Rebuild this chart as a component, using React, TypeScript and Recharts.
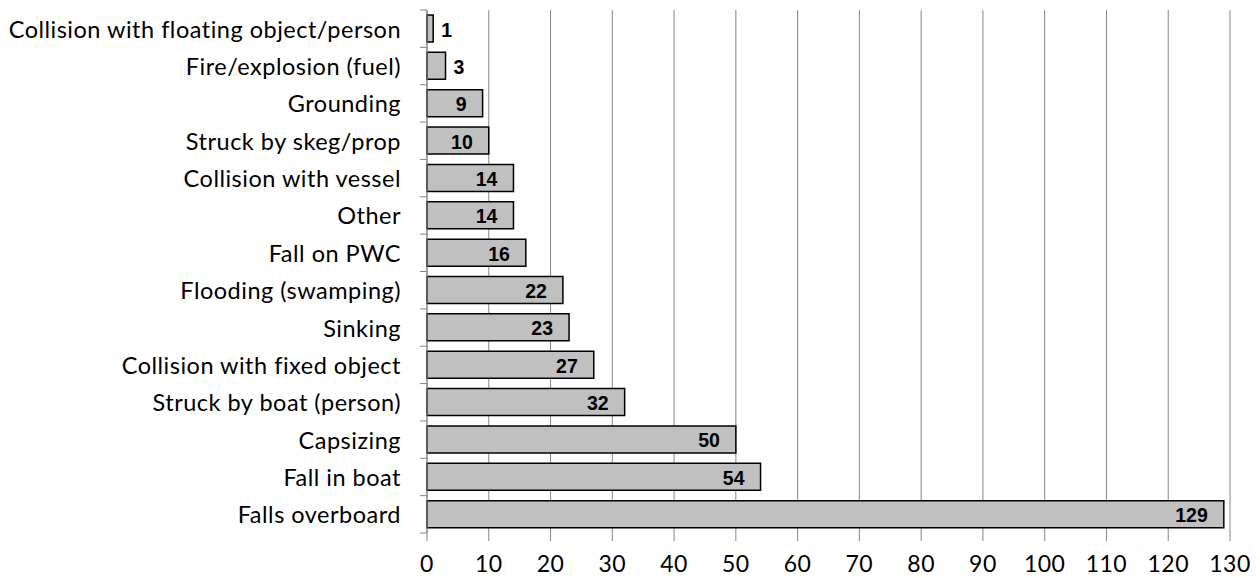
import React from 'react';
import { BarChart, Bar, XAxis, YAxis, CartesianGrid, LabelList } from 'recharts';

const categories = [
  'Collision with floating object/person',
  'Fire/explosion (fuel)',
  'Grounding',
  'Struck by skeg/prop',
  'Collision with vessel',
  'Other',
  'Fall on PWC',
  'Flooding (swamping)',
  'Sinking',
  'Collision with fixed object',
  'Struck by boat (person)',
  'Capsizing',
  'Fall in boat',
  'Falls overboard',
];
const counts = [1, 3, 9, 10, 14, 14, 16, 22, 23, 27, 32, 50, 54, 129];
const xTicks = [0, 10, 20, 30, 40, 50, 60, 70, 80, 90, 100, 110, 120, 130];

const data = categories.map((name, i) => ({ name, value: counts[i] }));

const W = 1260;
const H = 578;
const TOP = 10;
const XAXIS_H = 45;
const band = (H - TOP - XAXIS_H) / categories.length;
const gridColor = '#868686';
const labelFont = "Lato, 'Open Sans', sans-serif";

// category label plus the little tick marks between categories (Excel style)
const YTick = (props: any) => {
  const { x, y, payload, index } = props;
  return (
    <g>
      <line x1={x - 7} x2={x} y1={y - band / 2} y2={y - band / 2} stroke={gridColor} strokeWidth={1} />
      {index === categories.length - 1 && (
        <line x1={x - 7} x2={x} y1={y + band / 2} y2={y + band / 2} stroke={gridColor} strokeWidth={1} />
      )}
      <text
        x={x - 26}
        y={y}
        textAnchor="end"
        dominantBaseline="central"
        fontFamily={labelFont}
        fontSize={23.5}
        letterSpacing={0.5}
        fill="#000"
      >
        {payload.value}
      </text>
    </g>
  );
};

const ValueLabel = (props: any) => {
  const { x, y, width, height, value } = props;
  const inside = width > 40;
  return (
    <text
      x={inside ? x + width - 16 : x + width + 8}
      y={y + height / 2 + 1}
      textAnchor={inside ? 'end' : 'start'}
      dominantBaseline="central"
      fontFamily="'Liberation Sans', Arial, sans-serif"
      fontWeight="bold"
      fontSize={19.5}
      fill="#000"
    >
      {value}
    </text>
  );
};

export default function App() {
  return (
    <div style={{ position: 'absolute', left: 0, top: 0, background: '#fff' }}>
      <BarChart
        width={W}
        height={H}
        data={data}
        layout="vertical"
        margin={{ top: TOP, right: 30, left: 0, bottom: 0 }}
        barCategoryGap={0}
      >
        <CartesianGrid horizontal={false} stroke={gridColor} strokeWidth={1} />
        <XAxis
          type="number"
          domain={[0, 130]}
          ticks={xTicks}
          interval={0}
          height={XAXIS_H}
          axisLine={false}
          tickLine={{ stroke: gridColor }}
          tickSize={8}
          tickMargin={15}
          tick={{ fill: '#000', fontSize: 23, fontFamily: labelFont, letterSpacing: 0.5 }}
        />
        <YAxis
          type="category"
          dataKey="name"
          width={427}
          interval={0}
          axisLine={{ stroke: gridColor }}
          tickLine={false}
          tickSize={0}
          tickMargin={0}
          tick={<YTick />}
        />
        <Bar dataKey="value" fill="#c0c0c0" stroke="#000" strokeWidth={1.5} barSize={27} isAnimationActive={false}>
          <LabelList dataKey="value" content={<ValueLabel />} />
        </Bar>
      </BarChart>
    </div>
  );
}
